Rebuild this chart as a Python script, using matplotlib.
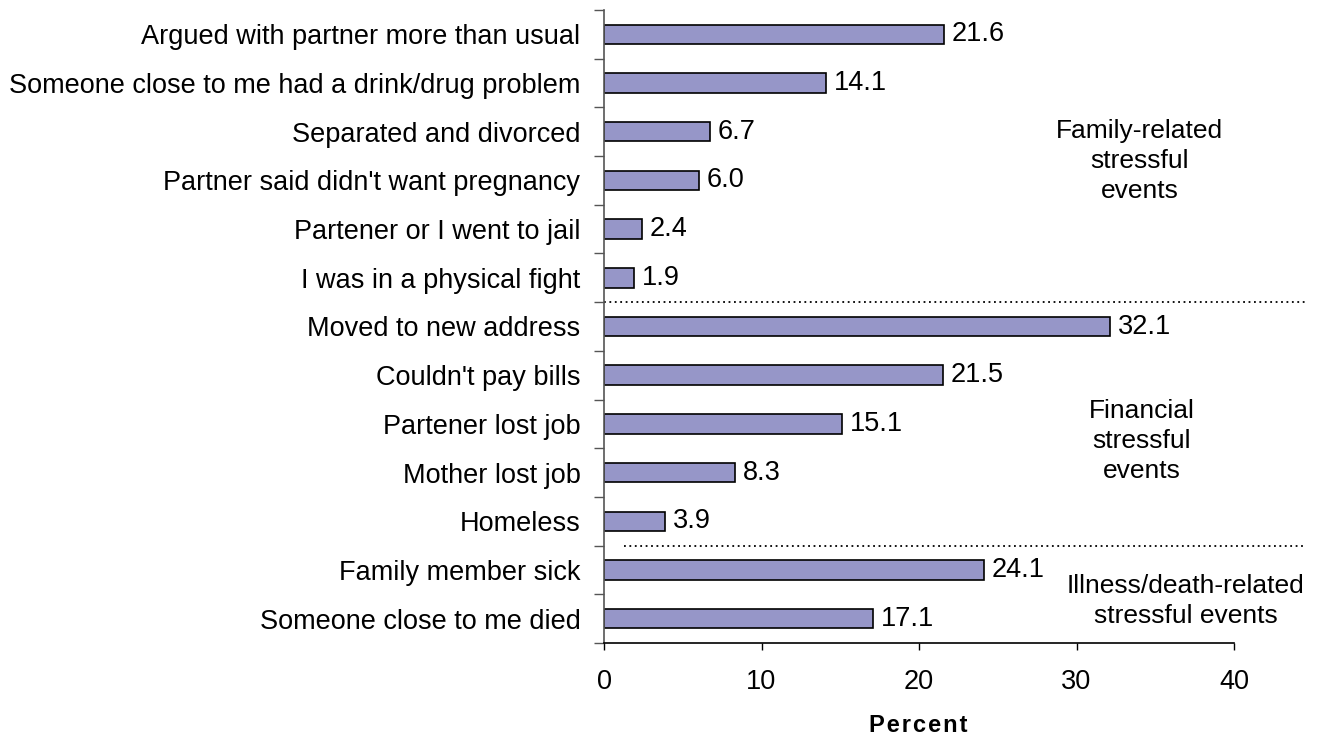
import matplotlib
matplotlib.use("Agg")
import matplotlib.pyplot as plt

plt.rcParams['font.family'] = ['Liberation Sans', 'DejaVu Sans']

categories = [
    "Argued with partner more than usual",
    "Someone close to me had a drink/drug problem",
    "Separated and divorced",
    "Partner said didn't want pregnancy",
    "Partener or I went to jail",
    "I was in a physical fight",
    "Moved to new address",
    "Couldn't pay bills",
    "Partener lost job",
    "Mother lost job",
    "Homeless",
    "Family member sick",
    "Someone close to me died",
]
values = [21.6, 14.1, 6.7, 6.0, 2.4, 1.9, 32.1, 21.5, 15.1, 8.3, 3.9, 24.1, 17.1]
x_ticks = [0, 10, 20, 30, 40]
group_labels = [
    "Family-related\nstressful\nevents",
    "Financial\nstressful\nevents",
    "Illness/death-related\nstressful events",
]
x_label = "Percent"

FS = 19.5

fig = plt.figure(figsize=(13.18, 7.36), dpi=100)
ax = fig.add_axes([604 / 1318, 1 - 643 / 736, 630 / 1318, 633 / 736])

n = len(categories)
ypos = list(range(n))
ax.barh(ypos, values, height=0.4, color="#9696C8", edgecolor="black", linewidth=1.2)
for y, v in zip(ypos, values):
    ax.text(v + 0.5, y, f"{v:.1f}", va="center", ha="left", fontsize=FS)

ax.set_ylim(n - 0.5, -0.5)
ax.set_xlim(0, 40)
ax.set_yticks(ypos)
ax.set_yticklabels(categories, fontsize=FS)
ax.tick_params(axis="y", length=0, pad=17)
# boundary ticks between categories
ax.set_yticks([i - 0.5 for i in range(n + 1)], minor=True)
ax.tick_params(axis="y", which="minor", length=7, width=1, color="#555555")
ax.set_xticks(x_ticks)
ax.set_xticklabels([str(t) for t in x_ticks], fontsize=FS)
ax.tick_params(axis="x", length=5, width=1, pad=14)

for s in ("top", "right"):
    ax.spines[s].set_visible(False)
ax.spines["left"].set_color("#555555")
ax.spines["left"].set_linewidth(1.2)
ax.spines["bottom"].set_linewidth(1.2)

# axis title, letter-spaced, sitting at the bottom edge
fig.text(918 / 1318, 4 / 736, "\u200a".join(x_label), ha="center", va="baseline",
         fontsize=17, fontweight="bold")

# group separators
ax.plot([0, 44.7], [5.5, 5.5], linestyle=(0, (1, 2)), color="black", lw=1.3, clip_on=False)
ax.plot([1.3, 44.4], [10.5, 10.5], linestyle=(0, (1, 2)), color="black", lw=1.3, clip_on=False)

ax.text(34.0, 2.6, group_labels[0], ha="center", va="center", fontsize=19, linespacing=1.32)
ax.text(34.15, 8.36, group_labels[1], ha="center", va="center", fontsize=19, linespacing=1.32)
ax.text(36.95, 11.64, group_labels[2], ha="center", va="center", fontsize=19, linespacing=1.32)

fig.savefig("out.png", dpi=100)
